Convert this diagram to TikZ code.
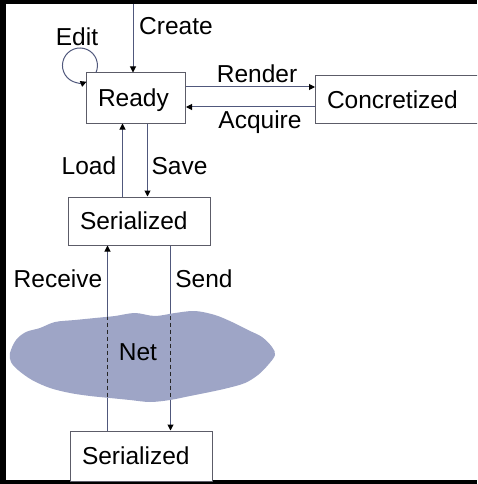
\documentclass[tikz,border=0pt]{standalone}
\usepackage{fontspec}
\setmainfont{Liberation Sans}
\usetikzlibrary{arrows.meta,calc}
\definecolor{edgeblue}{RGB}{80,88,124}
\definecolor{boxline}{RGB}{92,92,104}
\definecolor{netfill}{RGB}{158,165,198}

% outline of the network cloud
\def\netcloud{plot[smooth cycle, tension=0.55] coordinates {
  (10,353) (16,340) (26,332) (40,328) (55,322) (75,320) (95,318) (115,316)
  (135,313) (155,316) (175,313) (195,311) (215,315) (232,322) (248,330)
  (262,337) (272,347) (275,355) (268,365) (258,375) (245,383) (228,388)
  (210,392) (190,396) (170,400) (150,402) (130,400) (110,398) (90,396)
  (70,393) (50,388) (32,380) (18,370) (11,362)}}

\begin{document}
\begin{tikzpicture}[x=1pt,y=-1pt,
  every node/.style={font=\fontsize{24.5}{29}\selectfont,
    text height=17.5pt, text depth=0pt, inner sep=0pt},
  state/.style={draw=boxline, line width=1pt, fill=white, anchor=west,
    align=left, inner xsep=11.5pt},
  flow/.style={draw=edgeblue, line width=1pt,
    -{Triangle[length=6pt,width=6pt,color=black]}},
  netflow/.style={draw=black!85, line width=1pt, dash pattern=on 4pt off 3pt},
]
\useasboundingbox (0,0) rectangle (477,484);
\clip (0,0) rectangle (477,484);

% frame
\fill (0,0) rectangle (6,484);
\fill (0,0) rectangle (477,4);
\fill (0,480) rectangle (477,484);

% states
\node[state, text width=76pt, minimum height=50pt] (ready) at (86,98) {Ready};
\node[state, text width=151pt, minimum height=47pt] (conc) at (315,99.5) {Concretized};
\node[state, text width=119pt, minimum height=48pt] (ser1) at (68,221) {Serialized};
\node[state, text width=119pt, minimum height=50pt] (ser2) at (70,456) {Serialized};

% transitions
\coordinate (createtop) at (133,4);
\draw[flow] (createtop) -- (ready.north -| createtop);
\draw[flow] ([xshift=10pt]ready.north west)
  arc[start angle=23.6, end angle=-292, radius=17.5];
\draw[flow] ([yshift=11pt]ready.east) -- ([yshift=11pt]ready.east -| conc.west);
\draw[flow] ([yshift=-9pt]ready.east -| conc.west) -- ([yshift=-9pt]ready.east);
\draw[flow] ([xshift=-13.5pt]ready.south |- ser1.north) -- ([xshift=-13.5pt]ready.south);
\draw[flow] ([xshift=11.5pt]ready.south) -- ([xshift=11.5pt]ready.south |- ser1.north);
\draw[flow] ([xshift=-32pt]ser1.south |- ser2.north) -- ([xshift=-32pt]ser1.south);
\draw[flow] ([xshift=31pt]ser1.south) -- ([xshift=31pt]ser1.south |- ser2.north);

% network cloud, with the lines crossing it dashed
\fill[netfill] \netcloud;
\begin{scope}
  \clip \netcloud;
  \draw[netflow] ([xshift=-32pt]ser1.south) -- ([xshift=-32pt]ser1.south |- ser2.north);
  \draw[netflow] ([xshift=31pt]ser1.south) -- ([xshift=31pt]ser1.south |- ser2.north);
\end{scope}
\node (net) at (138,352) {Net};

% transition labels
\node[anchor=west] (lcreate) at (139,26) {Create};
\node (ledit) at (77,37) {Edit};
\node (lrender) at (257,74) {Render};
\node (lacquire) at (260,120) {Acquire};
\node (lload) at (89,166) {Load};
\node (lsave) at (179.5,166) {Save};
\node (lreceive) at (58,279) {Receive};
\node (lsend) at (204,279) {Send};
\end{tikzpicture}
\end{document}
